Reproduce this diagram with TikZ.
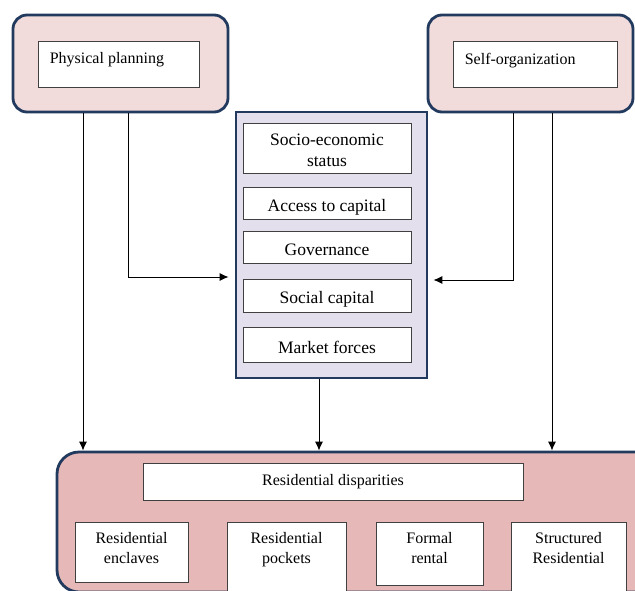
\documentclass[tikz,border=0pt]{standalone}
\usepackage{fontspec}
\setmainfont{Liberation Serif}
\usetikzlibrary{arrows.meta, positioning}
\definecolor{navyLine}{HTML}{223A5E}
\definecolor{pinkLight}{HTML}{F2DCDB}
\definecolor{pinkDark}{HTML}{E6B8B7}
\definecolor{lavender}{HTML}{E4DFEC}
\definecolor{boxGray}{HTML}{404040}
\tikzset{
    outerBox/.style={rectangle, draw=navyLine, line width=2.8pt, rounded corners=14pt, fill=pinkLight, inner sep=0pt},
    innerBox/.style={rectangle, draw=boxGray, fill=white, line width=0.8pt, inner sep=0pt, align=center, font=\fontsize{16}{19}\selectfont},
    factorBox/.style={innerBox, minimum width=168, text height=16pt, text depth=0pt, font=\fontsize{17.5}{21}\selectfont},
    topText/.style={anchor=north west, inner sep=0pt, xshift=12pt, yshift=-12pt, font=\fontsize{16}{19}\selectfont},
    typeText/.style={anchor=north, inner sep=0pt, yshift=-11pt, align=center, font=\fontsize{16}{20}\selectfont},
    flowArrow/.style={->, >={Latex[length=9pt, width=8pt]}, line width=0.9pt},
}

\begin{document}
\begin{tikzpicture}[x=1pt, y=-1pt]
        \clip (0,0) rectangle (635,590);
        \fill[white] (0,0) rectangle (635,590);

        % inputs
        \node[outerBox, minimum width=215, minimum height=97] (PPout) at (120.5,63.5) {};
        \node[innerBox, minimum width=161, minimum height=46, label={[topText]north west:Physical planning}] (PP) at (118.5,64) {};
        \node[outerBox, minimum width=205, minimum height=97] (SOout) at (530.5,63.5) {};
        \node[innerBox, minimum width=164, minimum height=46, label={[topText]north west:Self-organization}] (SO) at (535,64) {};

        % factors
        \node[outerBox, fill=lavender, rounded corners=0pt, minimum width=191, minimum height=266] (SEC) at (331.5,245) {};
        \node[factorBox, minimum height=50, text height=37pt] (SES) at (327,148) {Socio-economic\\status};
        \node[factorBox, minimum height=32] (ACC) at (327,203) {Access to capital};
        \node[factorBox, minimum height=32] (GOV) at (327,247) {Governance};
        \node[factorBox, minimum height=33] (SOC) at (327,295.5) {Social capital};
        \node[factorBox, minimum height=35] (MKT) at (327,345) {Market forces};

        % outcomes
        \node[outerBox, fill=pinkDark, rounded corners=22pt, minimum width=608, minimum height=140] (RES) at (361,522) {};
        \node[innerBox, minimum width=380, minimum height=37] (RD) at (333,481.5) {Residential disparities};
        \node[innerBox, minimum width=113, minimum height=60, label={[typeText]north:Residential\\enclaves}] (RE) at (131.5,552) {};
        \node[innerBox, minimum width=119, minimum height=74, label={[typeText]north:Residential\\pockets}] (RP) at (286.5,559) {};
        \node[innerBox, minimum width=107, minimum height=63, label={[typeText]north:Formal\\rental}] (FR) at (429.5,553.5) {};
        \node[innerBox, minimum width=115, minimum height=74, label={[typeText]north:Structured\\Residential}] (SR) at (568.5,559) {};

        % links
        \draw[flowArrow] ([xshift=-37.5pt]PPout.south) -- ([xshift=-37.5pt]PPout.south |- RES.north);
        \draw[flowArrow] ([xshift=7.5pt]PPout.south) |- ([xshift=-6pt, yshift=-32pt]SEC.west);
        \draw[flowArrow] ([xshift=-17.5pt]SOout.south) |- ([xshift=5pt, yshift=-35pt]SEC.east);
        \draw[flowArrow] ([xshift=21.5pt]SOout.south) -- ([xshift=21.5pt]SOout.south |- RES.north);
        \draw[flowArrow] ([xshift=-12.5pt]SEC.south) -- ([xshift=-12.5pt]SEC.south |- RES.north);

    \end{tikzpicture}
\end{document}
